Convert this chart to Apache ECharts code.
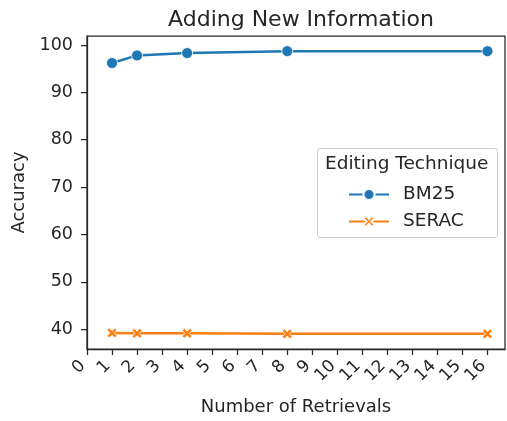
<!DOCTYPE html>
<html><head><meta charset="utf-8">
<script src="https://cdn.jsdelivr.net/npm/echarts@6/dist/echarts.min.js"></script>
<style>html,body{margin:0;padding:0;background:#fff}#c{width:507px;height:421px}</style>
</head><body><div id="c"></div>
<script>
const retrievals = [1, 2, 4, 8, 16];
const bm25 = [96.2, 97.8, 98.3, 98.7, 98.7];
const serac = [39.2, 39.1, 39.1, 39.0, 39.0];
const xTicks = [0,1,2,3,4,5,6,7,8,9,10,11,12,13,14,15,16];
const yTicks = [40,50,60,70,80,90,100];

const TXT = '#262626';
const FONT = 'DejaVu Sans';
const XSYM = 'path://M2.2,0 L5,2.8 L7.8,0 L10,2.2 L7.2,5 L10,7.8 L7.8,10 L5,7.2 L2.2,10 L0,7.8 L2.8,5 L0,2.2 Z';

const chart = echarts.init(document.getElementById('c'), null, {renderer:'canvas'});
chart.setOption({
  animation:false,
  textStyle:{fontFamily:FONT, color:TXT},
  title:{text:'Adding New Information', left:296, textAlign:'center', top:4, textStyle:{fontFamily:FONT, fontSize:22, fontWeight:'normal', color:TXT}},
  grid:{left:87, right:2, top:36, bottom:72, show:true, borderColor:TXT, borderWidth:1.25, backgroundColor:'transparent'},
  xAxis:{type:'value', min:0, max:16.7,
    name:'Number of Retrievals', nameLocation:'middle', nameGap:49,
    nameTextStyle:{fontFamily:FONT, fontSize:18, color:TXT},
    axisLine:{show:true, lineStyle:{color:TXT, width:1.25}},
    axisTick:{show:true, inside:false, length:6, customValues:xTicks, lineStyle:{color:TXT, width:1.25}},
    splitLine:{show:false},
    axisLabel:{rotate:45, fontFamily:FONT, fontSize:17, color:TXT, margin:10, padding:[0,6,0,0], customValues:xTicks}
  },
  yAxis:{type:'value', min:35.8, max:101.9,
    name:'Accuracy', nameLocation:'middle', nameGap:53,
    nameTextStyle:{fontFamily:FONT, fontSize:18, color:TXT},
    axisLine:{show:true, lineStyle:{color:TXT, width:1.25}},
    axisTick:{show:true, inside:false, length:6, customValues:yTicks, lineStyle:{color:TXT, width:1.25}},
    splitLine:{show:false},
    axisLabel:{fontFamily:FONT, fontSize:17.5, color:TXT, margin:14, customValues:yTicks}
  },
  legend:{
    orient:'vertical', left:348, top:185, itemGap:8, padding:0,
    itemWidth:40, itemHeight:14,
    textStyle:{fontFamily:FONT, fontSize:18.5, color:TXT, padding:[0,0,0,9]},
    data:['BM25','SERAC']
  },
  graphic:[
    {type:'rect', left:317, top:148, shape:{width:180, height:89, r:3},
     style:{fill:'rgba(255,255,255,0.8)', stroke:'#cccccc', lineWidth:1}, z:0},
    {type:'text', left:325, top:155, style:{text:'Editing Technique', font:'18.5px "DejaVu Sans"', fill:TXT}, z:10}
  ],
  series:[
    {name:'BM25', type:'line', data:retrievals.map((x,i)=>[x,bm25[i]]),
     symbol:'circle', symbolSize:11, showAllSymbol:true,
     lineStyle:{color:'#1f77b4', width:2.5}, itemStyle:{color:'#1f77b4', borderColor:'#fff', borderWidth:0.8}},
    {name:'SERAC', type:'line', data:retrievals.map((x,i)=>[x,serac[i]]),
     symbol:XSYM, symbolSize:10, showAllSymbol:true,
     lineStyle:{color:'#ff7f0e', width:2.5}, itemStyle:{color:'#ff7f0e', borderColor:'#fff', borderWidth:0.8}}
  ]
});
</script></body></html>
